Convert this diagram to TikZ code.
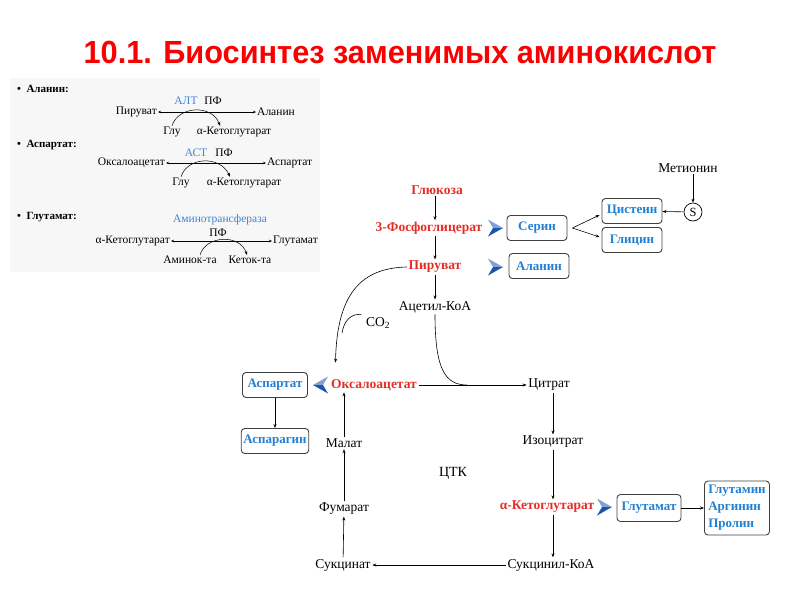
\documentclass[tikz,border=0pt]{standalone}
\usepackage{fontspec}
\setmainfont{Liberation Serif}
\newfontfamily\titlefont{Liberation Sans}
\usetikzlibrary{positioning,arrows.meta,calc}

\definecolor{titlered}{RGB}{250,0,0}
\definecolor{metred}{RGB}{228,45,38}
\definecolor{aablue}{RGB}{32,128,212}
\definecolor{enzblue}{RGB}{62,132,214}
\definecolor{chevblue}{RGB}{28,84,176}

\tikzset{
    >={Stealth[length=4pt,width=3pt]},
    rxn/.style={font=\fontsize{11.5}{13}\selectfont, inner sep=1pt},
    head/.style={font=\fontsize{11}{12}\selectfont\bfseries, inner sep=1pt, anchor=west},
    met/.style={font=\fontsize{13.5}{15}\selectfont, inner sep=1.5pt},
    keymet/.style={font=\fontsize{13.5}{15}\selectfont\bfseries, text=metred, inner sep=1.5pt},
    aabox/.style={draw=black!75, rounded corners=3.5pt, line width=0.9pt,
        font=\fontsize{13}{17}\selectfont\bfseries, text=aablue,
        minimum width=60pt, minimum height=25pt, inner sep=2pt},
    flow/.style={->, line width=0.6pt},
    chevR/.pic={
        \fill[chevblue!55] (-7,-8.5) -- (8,0) -- (-2,0) -- cycle;
        \fill[chevblue] (-7,8.5) -- (8,0) -- (-2,0) -- cycle;
    },
}

\begin{document}
\begin{tikzpicture}[x=1pt,y=-1pt]
    \useasboundingbox (0,0) rectangle (800,600);
    %Title
    \node[font=\titlefont\bfseries\fontsize{32}{38}\selectfont, text=titlered] (title) at (400,52)
        {\scalebox{0.96}[1]{10.1. Биосинтез заменимых аминокислот}};

    %Transamination panel
    \fill[gray!6] (10,78) rectangle (320,272);
    %Alanine
    \node[head] (hala) at (16,89) {•\ \ Аланин:};
    \node[rxn, anchor=east] (pyr1) at (158,112) {Пируват};
    \node[rxn, anchor=west] (ala1) at (256,112) {Аланин};
    \draw[{Stealth[length=3pt,width=2.5pt]}-{Stealth[length=3pt,width=2.5pt]}, line width=0.5pt] (pyr1) -- (ala1);
    \node[rxn, text=enzblue] (alt) at (186,101) {АЛТ};
    \node[rxn] (pf1) at (213,101) {ПФ};
    \node[rxn] (glu1) at (172,132) {Глу};
    \node[rxn] (akg1) at (234,132) {α-Кетоглутарат};
    \draw[->, line width=0.5pt] (glu1.north) .. controls (178,106) and (212,104) .. ($(akg1.north)+(-14,0)$);
    %Aspartate
    \node[head] (hasp) at (16,145) {•\ \ Аспартат:};
    \node[rxn, anchor=east] (oaa1) at (166,163) {Оксалоацетат};
    \node[rxn, anchor=west] (asp1) at (266,163) {Аспартат};
    \draw[{Stealth[length=3pt,width=2.5pt]}-{Stealth[length=3pt,width=2.5pt]}, line width=0.5pt] (oaa1) -- (asp1);
    \node[rxn, text=enzblue] (ast) at (196,153) {АСТ};
    \node[rxn] (pf2) at (224,153) {ПФ};
    \node[rxn] (glu2) at (181,183) {Глу};
    \node[rxn] (akg2) at (244,183) {α-Кетоглутарат};
    \draw[->, line width=0.5pt] (glu2.north) .. controls (187,157) and (220,155) .. ($(akg2.north)+(-14,0)$);
    %Glutamate
    \node[head] (hglu) at (16,217) {•\ \ Глутамат:};
    \node[rxn, text=enzblue] (ami) at (220,220) {Аминотрансфераза};
    \node[rxn] (pf3) at (218,233) {ПФ};
    \node[rxn, anchor=east] (akg3) at (171,241) {α-Кетоглутарат};
    \node[rxn, anchor=west] (glu3) at (272,241) {Глутамат};
    \draw[{Stealth[length=3pt,width=2.5pt]}-{Stealth[length=3pt,width=2.5pt]}, line width=0.5pt] (akg3) -- (glu3);
    \node[rxn] (amac) at (190,260) {Аминок-та};
    \node[rxn] (ketac) at (250,260) {Кеток-та};
    \draw[->, line width=0.5pt] ($(amac.north)+(10,0)$) .. controls (206,235) and (240,234) .. ($(ketac.north)+(-3,0)$);

    %Glycolysis
    \node[keymet] (glc) at (437,190) {Глюкоза};
    \node[keymet] (pga) at (429,228) {3-Фосфоглицерат};
    \node[keymet] (pyr) at (435,267) {Пируват};
    \draw[flow] (pyr.north |- glc.south) -- (pyr.north |- pga.north);
    \draw[flow] (pyr.north |- pga.south) -- (pyr.north);
    %Serine branch
    \pic at (495,228) {chevR};
    \node[aabox] (ser) at (537,228) {Серин};
    \node[aabox] (cys) at (632,211) {Цистеин};
    \node[aabox] (gly) at (632,240) {Глицин};
    \coordinate (fork) at ($(ser.east)+(5,0)$);
    \draw[flow] (fork) -- ($(cys.west)+(-2,4)$);
    \draw[flow] (fork) -- ($(gly.west)+(-2,-3)$);
    \node[draw, circle, line width=0.7pt, inner sep=0pt, minimum size=18pt, font=\fontsize{12.5}{14}\selectfont] (sul) at (693,212) {S};
    \node[met] (met) at (688,168) {Метионин};
    \draw[flow] (met.south -| sul.north) -- (sul.north);
    \draw[flow] (sul) -- (cys);
    %Alanine
    \pic at (495,267) {chevR};
    \node[aabox] (ala) at (539,266) {Аланин};

    %TCA cycle
    \node[met] (acoa) at (435,307) {Ацетил-КоА};
    \draw[flow] (pyr) -- (acoa);
    \node[keymet] (oaa) at (374,385) {Оксалоацетат};
    \node[met] (cit) at (549,385) {Цитрат};
    \node[met] (icit) at (553,442) {Изоцитрат};
    \node[keymet] (akg) at (547,507) {α-Кетоглутарат};
    \node[met] (scoa) at (551,565) {Сукцинил-КоА};
    \node[met] (succ) at (343,565) {Сукцинат};
    \node[met] (fum) at (344,509) {Фумарат};
    \node[met] (mal) at (344,443) {Малат};
    \node[met, font=\fontsize{14}{16}\selectfont] (tca) at (453,473) {ЦТК};
    \draw[flow] (oaa) -- (cit);
    \coordinate (merge) at ($(oaa.east)!0.45!(cit.west)$);
    \draw[line width=0.6pt] (acoa.south) .. controls ($(acoa.south)+(0,55)$) and ($(merge)+(-22,0)$) .. (merge);
    \draw[flow] (icit.north |- cit.south) -- (icit.north);
    \draw[flow] (icit.south) -- (icit.south |- akg.north);
    \draw[flow] (icit.south |- akg.south) -- (icit.south |- scoa.north);
    \draw[flow] (scoa) -- (succ);
    \draw[flow] (succ) -- (fum);
    \draw[flow] (fum) -- (mal);
    \draw[flow] (mal.north) -- (mal.north |- oaa.south);
    %Pyruvate carboxylation
    \draw[flow] (pyr.west) .. controls (360,268) and (337,295) .. ($(oaa.north west)+(6,-15)$);
    \node[met] (co2) at (378,323) {CO\textsubscript{2}};
    \draw[line width=0.6pt] ($(co2.north west)+(-3,-1)$) .. controls (352,313) and (344,320) .. (342,333);

    %Aspartate branch
    \pic[xscale=-1] at (321,385) {chevR};
    \node[aabox, minimum width=65pt] (asp) at (275,385) {Аспартат};
    \node[aabox, minimum width=65pt] (asn) at (275,441) {Аспарагин};
    \draw[flow] (asp) -- (asn);
    %Glutamate branch
    \pic at (604,507) {chevR};
    \node[aabox, minimum width=64pt, minimum height=27pt] (glu) at (649,508) {Глутамат};
    \node[aabox, align=left, minimum width=65pt, minimum height=54pt] (prod) at (737,508) {Глутамин\\Аргинин\\Пролин};
    \draw[flow] (glu) -- (prod);
\end{tikzpicture}
\end{document}
